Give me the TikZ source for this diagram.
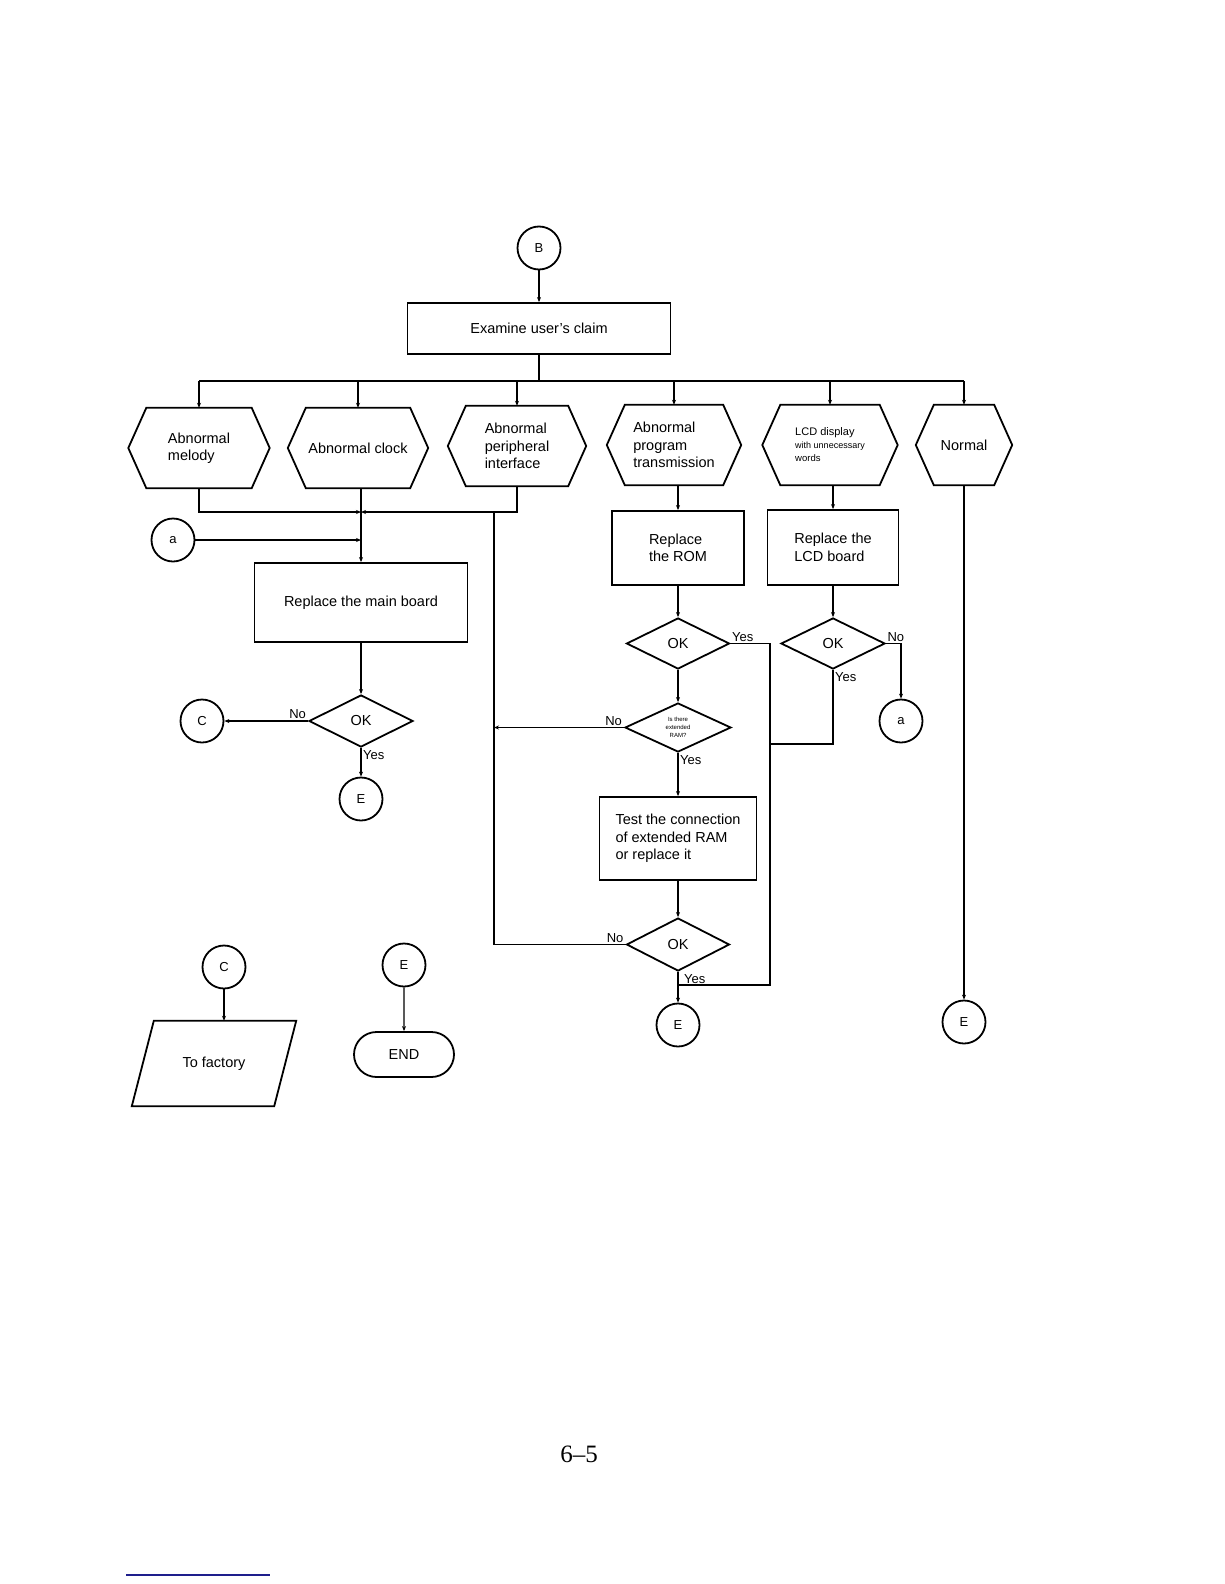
\documentclass[tikz,border=0pt]{standalone}
\usepackage{fontspec}
\setmainfont{Liberation Sans}
\newfontfamily\pagefont{Liberation Serif}
\usetikzlibrary{calc,arrows.meta,shapes.geometric,shapes.misc}
\definecolor{rulenavy}{RGB}{30,30,140}

\begin{document}
\begin{tikzpicture}[x=1pt,y=-1pt]%
        \tikzset{%
            txt/.style={font=\fontsize{14.5}{17.5}\selectfont},
            conn/.style={circle, draw, line width=1.8pt, minimum size=43pt, inner sep=0pt, font=\fontsize{13}{15}\selectfont},
            procbox/.style 2 args={draw, line width=1.8pt, minimum width=#1, minimum height=#2, inner sep=0pt, align=left, txt},
            decide/.style 2 args={diamond, draw, line width=1.8pt, minimum width=#1, minimum height=#2, inner sep=0pt, txt},
            hexa/.style={minimum width=#1, minimum height=80pt, inner sep=0pt, align=left, txt,
                append after command={\pgfextra{\draw[line width=1.8pt]
                    ($(\tikzlastnode.north west)+(18,0)$) -- ($(\tikzlastnode.north east)+(-18,0)$)
                    -- (\tikzlastnode.east) -- ($(\tikzlastnode.south east)+(-18,0)$)
                    -- ($(\tikzlastnode.south west)+(18,0)$) -- (\tikzlastnode.west) -- cycle;}}},
            slanted/.style={minimum width=164pt, minimum height=85pt, inner sep=0pt, txt,
                append after command={\pgfextra{\draw[line width=1.8pt]
                    ($(\tikzlastnode.north west)+(22,0)$) -- (\tikzlastnode.north east)
                    -- ($(\tikzlastnode.south east)+(-22,0)$) -- (\tikzlastnode.south west) -- cycle;}}},
            terminal/.style={rounded rectangle, draw, line width=1.8pt, minimum width=100pt, minimum height=45pt, inner sep=0pt, txt},
            line/.style={line width=1.3pt},
            flow/.style={line width=1.3pt, -{Stealth[length=5pt,width=4pt]}},
            yn/.style={font=\fontsize{13}{15}\selectfont, inner sep=1.5pt},
        }%
        \useasboundingbox (0,0) rectangle (1224,1584);
        % top
        \node[conn] (b) at (539,248) {B};
        \node[procbox={263}{51}] (claim) at (539,328.5) {Examine user's claim};
        \coordinate (bus) at (539,381);
        \node[hexa=141] (melody) at (199,448) {Abnormal\\ melody};
        \node[hexa=140] (clock) at (358,448) {Abnormal clock};
        \node[hexa=138] (periph) at (517,446) {Abnormal\\peripheral\\interface};
        \node[hexa=134] (prog) at (674,445) {Abnormal\\program\\transmission};
        \node[hexa=135, font=\fontsize{10}{13}\selectfont] (lcd) at (830,445) {{\fontsize{11}{13}\selectfont LCD display}\\{\fontsize{9}{13}\selectfont with unnecessary}\\ {\fontsize{9.5}{13}\selectfont words}};
        \node[hexa=96] (normal) at (964,445) {Normal};
        \draw[flow] (b) -- (claim);
        \draw[line] (claim) -- (bus);
        \draw[line] (melody |- bus) -- (normal |- bus);
        \foreach \h in {melody,clock,periph,prog,lcd,normal}
            \draw[flow] (\h |- bus) -- (\h.north);
        % left branch
        \coordinate (join) at (361,512);
        \coordinate (ret) at (494,512);
        \node[conn] (a1) at (173,540) {a};
        \node[procbox={213}{79}, align=center] (mainbd) at (361,602.5) {Replace the main board};
        \node[decide={104}{52}] (ok1) at (361,721) {OK};
        \node[conn] (c1) at (202,721) {C};
        \node[conn] (e1) at (361,799) {E};
        \draw[flow] (melody.south) |- (join);
        \draw[flow] (periph.south) |- (join);
        \draw[flow] (mainbd |- clock.south) -- (mainbd);
        \draw[flow] (a1) -- (a1 -| mainbd);
        \draw[flow] (mainbd) -- (ok1);
        \draw[flow] (ok1.west) -- (c1) node[yn, pos=0, above left] {No};
        \draw[flow] (ok1.south) -- (e1) node[yn, pos=0, below right] {Yes};
        % ROM / RAM branch
        \node[procbox={132}{74}] (rom) at (678,548) {Replace\\the ROM};
        \node[decide={103}{51}] (ok2) at (678,643.5) {OK};
        \node[decide={106}{49}, font=\fontsize{6}{8}\selectfont, align=center] (ram) at (678,727.5) {Is there\\extended\\RAM?};
        \node[procbox={157}{83}] (test) at (678,838.5) {Test the connection\\of extended RAM\\or replace it};
        \node[decide={103}{53}] (ok4) at (678,944.5) {OK};
        \node[conn] (e2) at (678,1025) {E};
        \coordinate (yesdn) at (770,985);
        \coordinate (merge) at (678,985);
        \draw[flow] (rom |- prog.south) -- (rom);
        \draw[flow] (rom) -- (ok2);
        \draw[flow] (ok2) -- (ram);
        \draw[flow] (ram) -- (test) node[yn, pos=0, below right] {Yes};
        \draw[flow] (test) -- (ok4);
        \draw[flow] (ok4) -- (e2) node[yn, pos=0, below right, xshift=4pt] {Yes};
        \draw[line] (ok2.east) -| (yesdn) -- (merge);
        \path (ok2.east) node[yn, above right] {Yes};
        \draw[flow] (ram.west) -- (ram.west -| ret) node[yn, pos=0, above left] {No};
        \draw[line] (ok4.west) -| (ret) node[yn, pos=0, above left] {No};
        % LCD branch
        \node[procbox={131}{75}] (lcdbd) at (833,547.5) {Replace the\\LCD board};
        \node[decide={104}{51}] (ok3) at (833,643.5) {OK};
        \node[conn] (a2) at (901,721) {a};
        \coordinate (yesmid) at (770,744);
        \draw[flow] (lcdbd |- lcd.south) -- (lcdbd);
        \draw[flow] (lcdbd) -- (ok3);
        \draw[flow] (ok3.east) -| (a2);
        \path (ok3.east) node[yn, above right] {No};
        \draw[line] (ok3.south) |- (yesmid) node[yn, pos=0, below right] {Yes};
        % normal
        \node[conn] (e3) at (964,1022) {E};
        \draw[flow] (normal) -- (e3);
        % connectors at the bottom
        \node[conn] (c2) at (224,967) {C};
        \node[slanted] (fac) at (214,1063.5) {To factory};
        \node[conn] (e4) at (404,965) {E};
        \node[terminal] (endn) at (404,1054.5) {END};
        \draw[flow] (c2) -- (c2 |- fac.north);
        \draw[flow] (e4) -- (endn);
        % page
        \node[font=\pagefont\fontsize{25}{28}\selectfont] (pgnum) at (579,1454) {6–5};
        \draw[rulenavy, line width=2pt] (126,1575) -- (270,1575);
    \end{tikzpicture}
\end{document}
